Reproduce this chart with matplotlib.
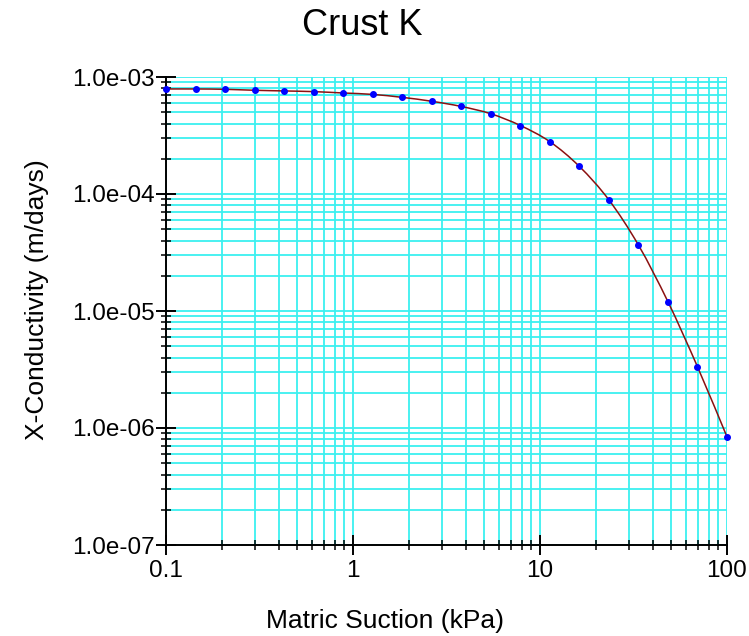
import matplotlib
matplotlib.use("Agg")
import numpy as np
import matplotlib.pyplot as plt
from matplotlib.path import Path
from matplotlib.patches import PathPatch
from matplotlib.ticker import LogLocator, NullFormatter

plt.rcParams['font.family'] = ['Liberation Sans', 'DejaVu Sans']

suction = [0.1, 0.1438, 0.2069, 0.2976, 0.4281, 0.6158, 0.8859, 1.274, 1.833, 2.637,
           3.793, 5.456, 7.848, 11.29, 16.24, 23.36, 33.60, 48.33, 69.52, 100.0]
conductivity = [7.9e-4, 7.9e-4, 7.85e-4, 7.7e-4, 7.6e-4, 7.5e-4, 7.3e-4, 7.1e-4, 6.7e-4, 6.2e-4,
                5.6e-4, 4.85e-4, 3.85e-4, 2.8e-4, 1.72e-4, 8.9e-5, 3.66e-5, 1.2e-5, 3.34e-6, 8.4e-7]

title = "Crust K"
xlabel = "Matric Suction (kPa)"
ylabel = "X-Conductivity (m/days)"
xticks = [0.1, 1, 10, 100]
xtick_labels = ["0.1", "1", "10", "100"]
yticks = [1e-7, 1e-6, 1e-5, 1e-4, 1e-3]
ytick_labels = ["1.0e-07", "1.0e-06", "1.0e-05", "1.0e-04", "1.0e-03"]

fig = plt.figure(figsize=(7.49, 6.36), dpi=100)
ax = fig.add_axes([166/749, 1-545/636, (727-166)/749, (545-77)/636])
ax.set_xscale('log')
ax.set_yscale('log')
ax.set_xlim(0.1, 100)
ax.set_ylim(1e-7, 1e-3)

# smooth connecting line (Catmull-Rom as cubic Bezier in log space, through the data points)
lx = np.log10(suction)
ly = np.log10(conductivity)
P = np.column_stack([lx, ly])
verts = [P[0]]
codes = [Path.MOVETO]
n = len(P)
for i in range(n - 1):
    p0 = P[i - 1] if i > 0 else P[i]
    p1 = P[i]
    p2 = P[i + 1]
    p3 = P[i + 2] if i + 2 < n else P[i + 1]
    c1 = p1 + (p2 - p0) / 6.0
    c2 = p2 - (p3 - p1) / 6.0
    verts += [c1, c2, p2]
    codes += [Path.CURVE4] * 3
verts = 10 ** np.array(verts)
ax.add_patch(PathPatch(Path(verts, codes), facecolor='none', edgecolor='#8B1010',
                       lw=1.1, zorder=3))
ax.plot(suction, conductivity, 'o', color='#0000FF', ms=4.0, mec='#0000FF',
        zorder=4, clip_on=False)

ax.set_xticks(xticks)
ax.set_xticklabels(xtick_labels)
ax.set_yticks(yticks)
ax.set_yticklabels(ytick_labels)
ax.xaxis.set_minor_locator(LogLocator(base=10, subs=range(2, 10)))
ax.yaxis.set_minor_locator(LogLocator(base=10, subs=range(2, 10)))
ax.xaxis.set_minor_formatter(NullFormatter())
ax.yaxis.set_minor_formatter(NullFormatter())

ax.grid(True, which='both', color='#3CF0F0', lw=1.3, zorder=1)
ax.set_axisbelow(True)

for s in ['top', 'right']:
    ax.spines[s].set_visible(False)
for s in ['left', 'bottom']:
    ax.spines[s].set_linewidth(1.4)

ax.tick_params(axis='y', which='major', direction='inout', length=14, width=1.4,
               labelsize=17.5, pad=1)
ax.tick_params(axis='y', which='minor', direction='inout', length=7, width=1.1)
ax.tick_params(axis='x', which='major', direction='inout', length=14, width=1.4,
               labelsize=17.5, pad=4)
ax.tick_params(axis='x', which='minor', direction='inout', length=7, width=1.1)

fig.text(385/749, 1-628/636, xlabel, fontsize=19, ha='center', va='baseline')
fig.text(37/749, 1-300/636, ylabel, fontsize=19, ha='center', va='center', rotation=90)
fig.text(362/749, 1-35/636, title, fontsize=26, ha='center', va='baseline')

fig.savefig("out.png", dpi=100)
